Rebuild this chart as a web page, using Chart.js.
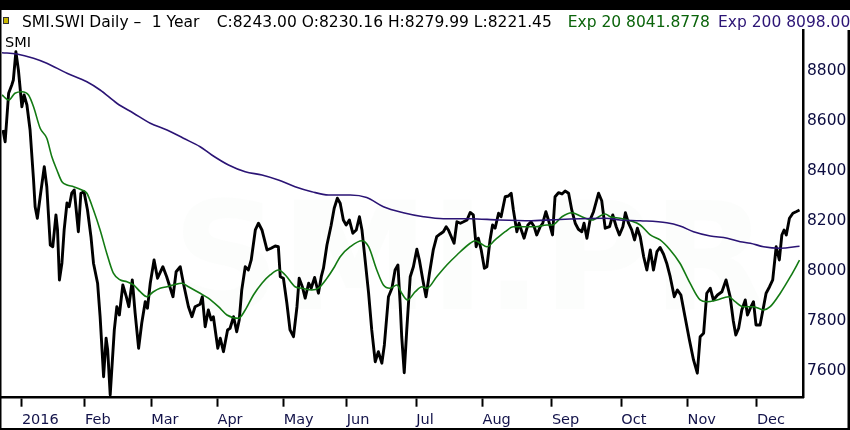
<!DOCTYPE html>
<html>
<head>
<meta charset="utf-8">
<script src="https://cdn.jsdelivr.net/npm/chart.js@4.4.1/dist/chart.umd.min.js"></script>
<style>
  html, body { margin: 0; padding: 0; background: #fff; }
  #wrap { position: relative; width: 850px; height: 430px; overflow: hidden; }
  #my-canvas { position: absolute; left: 0; top: 0; }
  .hdr { position: absolute; top: 13.5px; font: 15.5px 'DejaVu Sans', sans-serif; line-height: 16px; white-space: pre; color: #000; }
  #sym { position: absolute; left: 5px; top: 33.5px; font: 14.5px 'DejaVu Sans', sans-serif; line-height: 16px; color: #000; }
  #icon { position: absolute; left: 3px; top: 17px; width: 4px; height: 5px; background: #c9b800; border: 1px solid #333; }
</style>
</head>
<body>
<div id="wrap">
  <canvas id="my-canvas" width="850" height="430"></canvas>
  <div id="icon"></div>
  <div class="hdr" style="left:22px">SMI.SWI Daily –</div>
  <div class="hdr" style="left:151.7px">1 Year</div>
  <div class="hdr" style="left:216.7px">C:8243.00 O:8230.16 H:8279.99 L:8221.45</div>
  <div class="hdr" style="left:567.7px;color:#0b640b">Exp 20 8041.8778</div>
  <div class="hdr" style="left:718px;color:#2b1475">Exp 200 8098.00</div>
  <div id="sym">SMI</div>
</div>
<script>
// x values are trading-day positions, 0 = first trading day of 2016
const monthTickDays = [0, 20, 41, 62, 83, 103, 125, 146, 168, 190, 211, 233];
const monthTickLabels = ['2016', 'Feb', 'Mar', 'Apr', 'May', 'Jun', 'Jul', 'Aug', 'Sep', 'Oct', 'Nov', 'Dec'];
const priceTicks = [7600, 7800, 8000, 8200, 8400, 8600, 8800];

const closeDays = [
  -6.0, -5.3, -4.2, -3.2, -2.7, -1.9, -1.1, 0, 0.7, 1.6, 2.6, 3.7, 4.2, 4.9, 5.8, 7.1, 7.9, 9.0, 9.8, 10.8,
  11.3, 11.9, 12.7, 13.4, 14.3, 15.0, 15.8, 16.6, 17.9, 18.7, 19.7, 20.8, 21.9, 22.7, 24.0, 24.8, 25.9, 26.7, 27.2, 28.0,
  29.3, 30.1, 30.9, 32.0, 33.1, 33.9, 35.0, 35.9, 37.0, 38.0, 39.1, 39.8, 40.7, 41.9, 43.0, 44.7, 45.9, 47.9, 48.9, 50.2,
  51.2, 52.8, 53.9, 54.9, 56.5, 57.2, 58.1, 59.1, 60.0, 60.7, 62.1, 62.9, 63.9, 65.2, 66.0, 67.1, 68.1, 68.9, 69.7, 70.8,
  71.8, 72.7, 74.0, 75.0, 76.1, 77.7, 79.0, 80.3, 81.3, 81.9, 82.9, 84.0, 85.0, 86.1, 87.2, 87.9, 88.9, 89.8, 90.9, 91.7,
  92.8, 94.0, 94.9, 95.6, 96.7, 98.0, 99.0, 100.0, 100.9, 101.9, 102.8, 103.8, 104.9, 106.0, 107.0, 107.8, 108.8, 109.9, 110.9, 112.0,
  113.0, 114.1, 114.9, 116.2, 117.3, 118.3, 119.2, 119.9, 120.4, 121.2, 122.0, 123.1, 124.1, 125.2, 126.0, 127.1, 128.1, 129.2, 130.4, 131.5,
  132.6, 133.6, 134.5, 135.2, 137.0, 137.9, 139.0, 140.0, 141.1, 142.1, 143.1, 144.0, 144.7, 145.6, 146.6, 147.4, 148.4, 149.2, 150.0, 151.1,
  151.9, 153.2, 154.2, 155.1, 155.8, 156.9, 157.6, 158.3, 159.2, 160.4, 161.4, 162.4, 163.2, 164.3, 165.1, 166.1, 166.9, 168.2, 169.0, 170.1,
  171.2, 172.2, 173.3, 174.3, 175.4, 176.4, 177.5, 178.2, 179.1, 180.1, 181.2, 182.8, 183.8, 184.9, 186.3, 187.3, 188.4, 189.4, 190.5, 191.3,
  192.3, 193.3, 194.2, 195.1, 196.0, 197.1, 198.1, 199.2, 200.2, 201.3, 202.3, 203.4, 204.4, 205.5, 206.8, 207.8, 208.9, 210.2, 211.6, 212.9,
  214.1, 215.0, 216.1, 217.1, 218.2, 219.2, 220.5, 221.9, 223.2, 224.5, 225.5, 226.3, 227.2, 228.2, 229.3, 230.0, 230.9, 231.9, 232.7, 234.0,
  234.9, 235.9, 237.0, 238.0, 239.1, 240.1, 240.9, 241.6, 242.3, 243.3, 244.4, 245.4, 246.5
];
const closeValues = [
  8563, 8516, 8710, 8743, 8763, 8876, 8803, 8656, 8703, 8663, 8563, 8363, 8256, 8210, 8296, 8416, 8336, 8103, 8096, 8223,
  8163, 7963, 8031, 8163, 8271, 8256, 8310, 8323, 8156, 8310, 8316, 8243, 8136, 8030, 7950, 7816, 7576, 7730, 7683, 7503,
  7763, 7856, 7823, 7943, 7896, 7856, 7963, 7830, 7690, 7791, 7876, 7850, 7950, 8043, 7970, 8016, 7976, 7896, 7996, 8016,
  7950, 7856, 7816, 7856, 7866, 7896, 7776, 7843, 7803, 7816, 7690, 7730, 7676, 7763, 7770, 7816, 7756, 7803, 7923, 8016,
  8003, 8043, 8163, 8190, 8163, 8083, 8090, 8099, 8096, 7976, 7970, 7870, 7763, 7736, 7856, 7970, 7936, 7890, 7950, 7930,
  7973, 7910, 7976, 8010, 8103, 8180, 8250, 8290, 8270, 8203, 8183, 8203, 8150, 8163, 8216, 8163, 8043, 7910, 7763, 7636,
  7676, 7630, 7703, 7896, 7930, 8003, 8023, 7870, 7736, 7592, 7763, 7976, 8016, 8086, 8043, 7963, 7896, 7990, 8083, 8136,
  8147, 8156, 8176, 8163, 8110, 8196, 8190, 8196, 8203, 8233, 8223, 8096, 8130, 8083, 8010, 8016, 8123, 8183, 8170, 8230,
  8216, 8296, 8299, 8310, 8243, 8156, 8190, 8163, 8130, 8183, 8196, 8176, 8143, 8176, 8190, 8236, 8203, 8143, 8296, 8312,
  8307, 8319, 8310, 8243, 8190, 8166, 8156, 8190, 8130, 8203, 8236, 8310, 8280, 8170, 8176, 8223, 8176, 8143, 8176, 8232,
  8190, 8163, 8123, 8170, 8136, 8056, 8003, 8083, 8003, 8076, 8093, 8066, 8030, 7976, 7896, 7923, 7903, 7816, 7723, 7643,
  7590, 7736, 7750, 7910, 7930, 7883, 7903, 7916, 7963, 7896, 7800, 7743, 7770, 7843, 7883, 7823, 7850, 7876, 7783, 7783,
  7843, 7910, 7936, 7963, 8096, 8043, 8143, 8163, 8143, 8210, 8230, 8236, 8243
];

const ema20Days = [
  -6.3, -4.2, -2.2, 0, 2.1, 3.7, 5.8, 7.9, 9.5, 11.1, 12.7, 14.3, 16.4, 19.0, 20.6, 22.7, 24.8, 26.9, 29.0, 31.2,
  33.3, 35.4, 37.5, 39.6, 41.7, 43.8, 46.0, 48.0, 50.7, 52.8, 56.5, 59.1, 62.3, 65.0, 68.7, 70.8, 73.4, 76.1, 78.7, 81.3,
  83.5, 86.6, 88.8, 91.9, 94.0, 96.7, 99.1, 100.9, 104.1, 107.8, 109.9, 112.5, 114.6, 116.7, 118.9, 120.4, 122.2, 124.7, 126.8, 128.4,
  131.5, 134.7, 137.9, 142.1, 143.7, 145.3, 147.4, 150.0, 153.2, 155.8, 159.0, 162.7, 166.4, 168.2, 171.2, 174.3, 177.5, 180.7, 184.9, 186.5,
  189.6, 192.8, 196.0, 199.2, 202.3, 205.5, 208.6, 211.8, 215.0, 217.1, 220.3, 224.0, 226.1, 228.7, 231.9, 235.1, 237.2, 240.4, 243.6, 246.5
];
const ema20Values = [
  8703, 8683, 8710, 8716, 8703, 8656, 8570, 8530, 8456, 8403, 8356, 8343, 8336, 8323, 8310, 8243, 8163, 8070, 7990, 7963,
  7956, 7943, 7916, 7896, 7916, 7930, 7936, 7943, 7950, 7936, 7910, 7890, 7856, 7823, 7810, 7843, 7903, 7950, 7983, 8003,
  7983, 7936, 7930, 7923, 7930, 7970, 8016, 8056, 8096, 8120, 8096, 8003, 7943, 7930, 7943, 7910, 7883, 7916, 7936, 7930,
  7976, 8023, 8063, 8110, 8120, 8110, 8096, 8123, 8156, 8176, 8176, 8176, 8183, 8183, 8216, 8232, 8216, 8203, 8227, 8216,
  8210, 8200, 8183, 8143, 8123, 8083, 8030, 7950, 7883, 7876, 7883, 7896, 7876, 7856, 7856, 7843, 7856, 7910, 7976, 8042
];

const ema200Days = [
  -6.3, -1.6, 3.7, 7.9, 14.3, 20.6, 24.8, 30.1, 35.4, 40.7, 46.0, 51.2, 56.5, 60.2, 65.5, 70.8, 76.1, 81.3, 86.6, 91.9,
  97.2, 104.1, 109.3, 114.6, 120.9, 127.3, 133.6, 142.1, 151.0, 161.5, 172.2, 184.9, 189.6, 196.0, 204.4, 208.6, 212.9, 218.2, 223.6, 227.7,
  230.9, 235.1, 240.4, 246.5
];
const ema200Values = [
  8872, 8867, 8850, 8830, 8790, 8756, 8723, 8670, 8630, 8590, 8563, 8530, 8496, 8463, 8423, 8396, 8383, 8363, 8336, 8316,
  8303, 8303, 8293, 8256, 8232, 8216, 8208, 8208, 8203, 8200, 8206, 8210, 8203, 8200, 8192, 8179, 8156, 8139, 8130, 8116,
  8110, 8096, 8090, 8098
];

const toPoints = (days, values) => days.map((d, i) => ({ x: d, y: values[i] }));

const frame = {
  id: 'frame',
  beforeDatasetsDraw(chart) {
    const ctx = chart.ctx;
    ctx.save();
    ctx.fillStyle = 'rgba(225, 235, 225, 0.09)';
    ctx.font = 'bold 150px "DejaVu Sans", sans-serif';
    ctx.textAlign = 'center';
    ctx.textBaseline = 'middle';
    ctx.fillText('SMI.PR', 470, 270);
    ctx.restore();
  },
  afterDraw(chart) {
    const ctx = chart.ctx;
    ctx.save();
    ctx.fillStyle = '#000';
    ctx.fillRect(0, 0, 850, 10);
    ctx.fillRect(0, 0, 1.5, 430);
    ctx.fillRect(0, 428, 850, 2);
    ctx.fillRect(847.5, 30, 2.5, 400);
    ctx.restore();
  },
};

const tickFont = { family: 'DejaVu Sans', size: 15.5 };

new Chart('my-canvas', {
  type: 'line',
  data: {
    datasets: [
      {
        label: 'Exp 200',
        data: toPoints(ema200Days, ema200Values),
        borderColor: '#2b1475',
        borderWidth: 1.6,
        pointRadius: 0,
        cubicInterpolationMode: 'monotone',
      },
      {
        label: 'Exp 20',
        data: toPoints(ema20Days, ema20Values),
        borderColor: '#137a13',
        borderWidth: 1.6,
        pointRadius: 0,
        cubicInterpolationMode: 'monotone',
      },
      {
        label: 'SMI',
        data: toPoints(closeDays, closeValues),
        borderColor: '#000',
        borderWidth: 2.9,
        borderJoinStyle: 'round',
        pointRadius: 0,
        tension: 0,
      },
    ],
  },
  options: {
    responsive: false,
    animation: false,
    layout: { padding: { top: 30, left: 2, right: 0, bottom: 0 } },
    plugins: { legend: { display: false }, tooltip: { enabled: false } },
    scales: {
      x: {
        type: 'linear',
        min: -6.3,
        max: 247.6,
        afterBuildTicks: scale => {
          scale.ticks = monthTickDays.map(v => ({ value: v }));
        },
        afterFit: scale => {
          scale.height = 32.3;
        },
        ticks: {
          autoSkip: false,
          maxRotation: 0,
          align: 'start',
          padding: 5,
          color: '#13134a',
          font: { family: 'DejaVu Sans', size: 14.5 },
          callback: (value, index) => monthTickLabels[index],
        },
        grid: {
          drawOnChartArea: false,
          drawTicks: true,
          tickLength: 9,
          tickColor: '#000',
          tickWidth: 2,
        },
        border: { display: true, color: '#000', width: 2.5 },
      },
      y: {
        position: 'right',
        min: 7492,
        max: 8963,
        afterBuildTicks: scale => {
          scale.ticks = priceTicks.map(v => ({ value: v }));
        },
        afterFit: scale => {
          scale.width = 47;
        },
        ticks: {
          padding: 4,
          color: '#0c0c40',
          font: tickFont,
          callback: value => String(value),
        },
        grid: { drawOnChartArea: false, drawTicks: false },
        border: { display: true, color: '#000', width: 2.5 },
      },
    },
  },
  plugins: [frame],
});
</script>
</body>
</html>
